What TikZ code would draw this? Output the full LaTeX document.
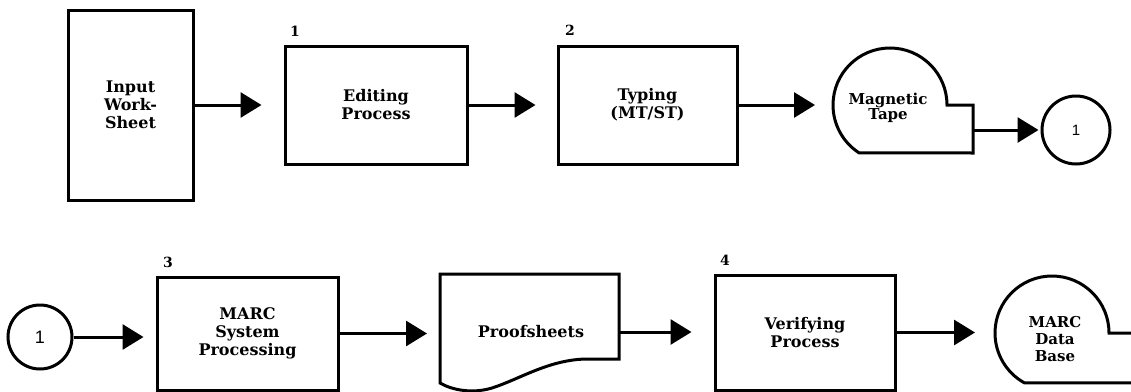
\documentclass[tikz,border=0pt]{standalone}
\usepackage{fontspec}
\setmainfont{DejaVu Serif}
\newfontfamily\numfont{Liberation Sans}
\usetikzlibrary{arrows.meta}
\begin{document}
\begin{tikzpicture}[x=1pt,y=-1pt,line width=3pt,
  lbl/.style={align=center,inner sep=0pt,font=\bfseries\fontsize{16}{18}\selectfont},
  box/.style={draw,rectangle,inner sep=0pt,align=center,font=\bfseries\fontsize{16}{18}\selectfont},
  conn/.style={draw,circle,inner sep=0pt,font=\numfont\fontsize{15}{15}\selectfont},
  num/.style={inner sep=0pt,font=\bfseries\fontsize{14}{14}\selectfont},
  arr/.style={-{Triangle[length=21pt,width=25pt]}}]
\clip (0,0) rectangle (1131,391);
\fill[white] (0,0) rectangle (1131,391);
% row 1
\node[box,minimum width=125pt,minimum height=190pt] (input) at (130.5,105) {Input\\Work-\\Sheet};
\node[box,minimum width=182pt,minimum height=118pt] (edit) at (376,105) {Editing\\Process};
\node[box,minimum width=179pt,minimum height=118pt] (typing) at (647.5,105) {Typing\\(MT/ST)};
\node[lbl,font=\bfseries\fontsize{15}{15}\selectfont] (tape) at (888,108) {Magnetic\\Tape};
\draw (947,105) arc[start angle=0,end angle=237,radius=57pt] -- (973,153) -- (973,105) -- cycle;
\coordinate (tapeL) at (833,105);
\coordinate (tapeR) at (973,130);
\node[conn,minimum size=68pt] (c1) at (1076,130) {1};
\node[num] (n1) at (295,31) {1};
\node[num] (n2) at (570,30) {2};
\draw[arr,shorten >=22pt] (input.east) -- (input.east -| edit.west);
\draw[arr,shorten >=21pt] (edit.east) -- (edit.east -| typing.west);
\draw[arr,shorten >=18pt] (typing.east) -- (tapeL);
\draw[arr,shorten >=2pt] (tapeR) -- (c1.west);
% row 2
\node[conn,minimum size=64pt,font=\numfont\fontsize{18}{18}\selectfont] (c2) at (40,337) {1};
\node[box,minimum width=181pt,minimum height=113pt] (marc) at (247.5,333.5) {MARC\\System\\Processing};
\node[lbl] (proof) at (531,332) {Proofsheets};
\draw (440,274) -- (619,274) -- (619,359) -- (588,359)
  .. controls (550,359) and (520,379) .. (492,388)
  .. controls (472,394) and (452,390) .. (440,383) -- cycle;
\coordinate (proofL) at (440,332);
\coordinate (proofR) at (619,332);
\node[box,minimum width=180pt,minimum height=115pt] (verify) at (805,332.5) {Verifying\\Process};
\node[lbl,font=\bfseries\fontsize{15}{17}\selectfont] (db) at (1055,339) {MARC\\Data\\Base};
\draw (1140,333) -- (1109,333) arc[start angle=0,end angle=241,radius=57pt] -- (1140,383);
\coordinate (dbL) at (995,333);
\node[num] (n3) at (168,262) {3};
\node[num] (n4) at (725,260) {4};
\draw[arr,shorten >=12pt] (c2.east) -- (c2.east -| marc.west);
\draw[arr,shorten >=13pt] (marc.east) -- (marc.east -| proofL);
\draw[arr,shorten >=22pt] (proofR) -- (proofR -| verify.west);
\draw[arr,shorten >=20pt] (verify.east) -- (verify.east -| dbL);
\end{tikzpicture}
\end{document}
